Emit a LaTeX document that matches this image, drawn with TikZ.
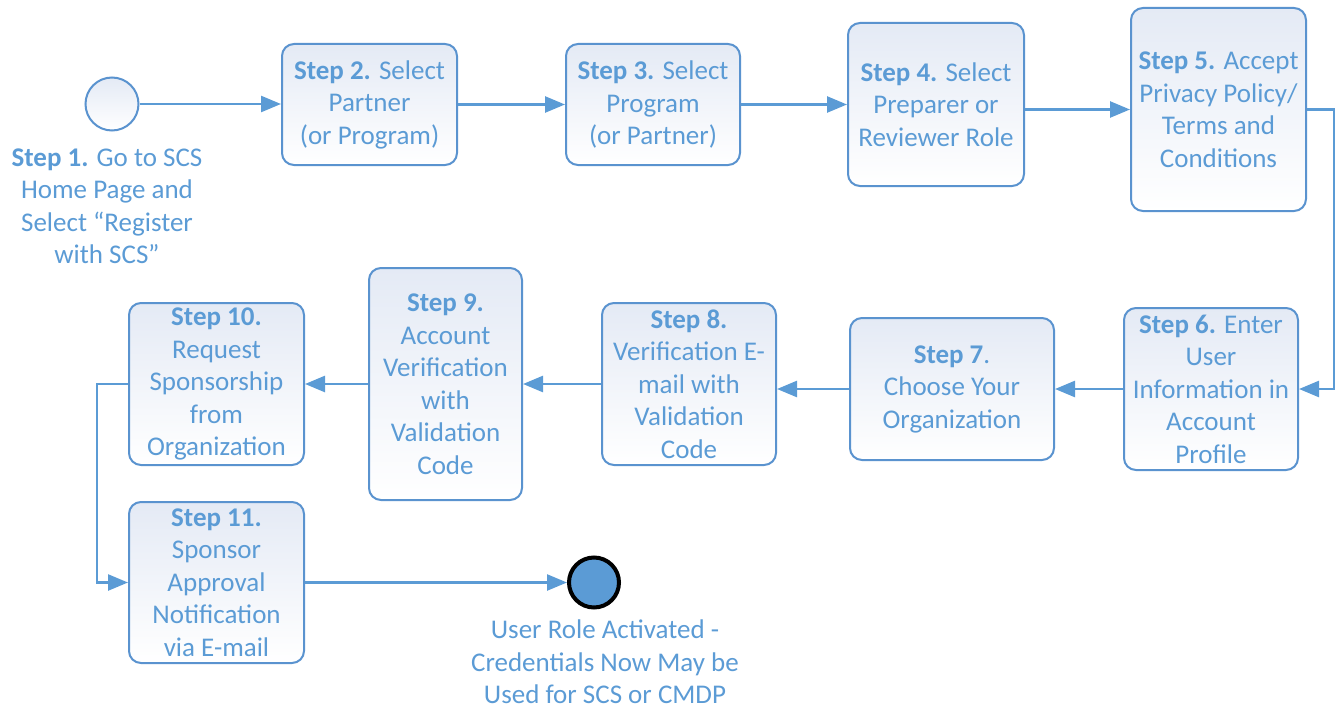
\documentclass[tikz,border=0pt]{standalone}
\usepackage{fontspec}
\setmainfont{Carlito}
\usetikzlibrary{arrows.meta}

\definecolor{stepblue}{HTML}{5B9BD5}
\definecolor{stepline}{HTML}{5A93CF}
\definecolor{steptop}{HTML}{E4EAF5}

\tikzset{
  stepbox/.style={rectangle, rounded corners=12pt, draw=stepline, line width=2pt,
    top color=steptop, bottom color=white, align=center, text=stepblue, inner sep=0pt,
    font=\fontsize{27}{32.5}\selectfont},
  steptext/.style={align=center, text=stepblue, inner sep=0pt,
    font=\fontsize{27}{32.5}\selectfont},
  flow/.style={draw=stepblue, line width=2.5pt, -{Triangle[length=20pt,width=16pt]}}
}

\begin{document}
\begin{tikzpicture}[x=1pt,y=-1pt]
                \useasboundingbox (0,0) rectangle (1341,709);
                \node [circle, draw=stepline, line width=2pt, top color=steptop, bottom color=white, minimum size=53pt, inner sep=0pt] (start) at (112,104) {};
                \node [steptext] (s1) at (107,206) {\textbf{Step 1.} Go to SCS\\Home Page and\\Select ``Register\\with SCS''};
                \node [stepbox, minimum width=175pt, minimum height=121pt] (s2) at (369.5,104.5) {\textbf{Step 2.} Select\\Partner\\(or Program)};
                \node [stepbox, minimum width=174pt, minimum height=121pt] (s3) at (653,104.5) {\textbf{Step 3.} Select\\Program\\(or Partner)};
                \node [stepbox, minimum width=176pt, minimum height=163pt] (s4) at (936,104.5) {\textbf{Step 4.} Select\\Preparer or\\Reviewer Role};
                \node [stepbox, minimum width=175pt, minimum height=203pt] (s5) at (1218.5,109.5) {\textbf{Step 5.} Accept\\Privacy Policy/\\Terms and\\Conditions};
                \node [stepbox, minimum width=174pt, minimum height=162pt] (s6) at (1211,389) {\textbf{Step 6.} Enter\\User\\Information in\\Account\\Profile};
                \node [stepbox, minimum width=204pt, minimum height=142pt] (s7) at (952,389) {\textbf{Step 7}.\\Choose Your\\Organization};
                \node [stepbox, minimum width=174pt, minimum height=162pt] (s8) at (689,384) {\textbf{Step 8.}\\Verification E-\\mail with\\Validation\\Code};
                \node [stepbox, minimum width=153pt, minimum height=232pt] (s9) at (445.5,384) {\textbf{Step 9.}\\Account\\Verification\\with\\Validation\\Code};
                \node [stepbox, minimum width=175pt, minimum height=162pt] (s10) at (216.5,384) {\textbf{Step 10.}\\Request\\Sponsorship\\from\\Organization};
                \node [stepbox, minimum width=175pt, minimum height=161pt] (s11) at (216.5,582.5) {\textbf{Step 11.}\\Sponsor\\Approval\\Notification\\via E-mail};
                \node [circle, draw=black, line width=4pt, fill=stepblue, minimum size=50pt, inner sep=0pt] (finish) at (594,582.5) {};
                \node [steptext] (done) at (605,662) {User Role Activated -\\Credentials Now May be\\Used for SCS or CMDP};
                \draw [flow] (start.east) -- (start.east -| s2.west);
                \draw [flow] (s2) -- (s3);
                \draw [flow] (s3) -- (s4);
                \draw [flow] (s4.east |- s5.west) -- (s5.west);
                \draw [flow] (s5.east) -- ++(27,0) |- (s6.east);
                \draw [flow] (s6) -- (s7);
                \draw [flow] (s7.west) -- (s7.west -| s8.east);
                \draw [flow] (s8) -- (s9);
                \draw [flow] (s9) -- (s10);
                \draw [flow] (s10.west) -- ++(-31,0) |- (s11.west);
                \draw [flow] (s11.east) -- (s11.east -| finish.west);
            \end{tikzpicture}
\end{document}
